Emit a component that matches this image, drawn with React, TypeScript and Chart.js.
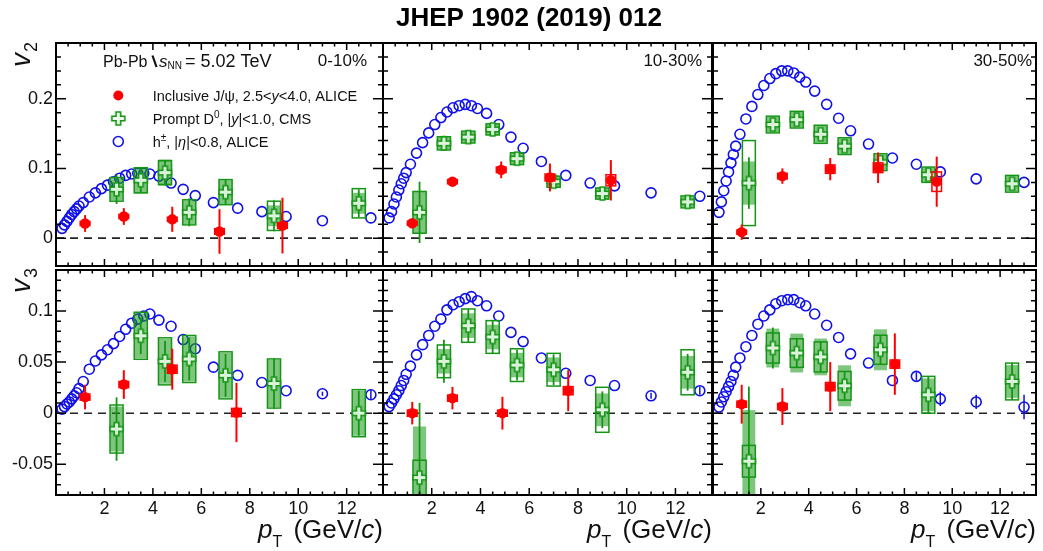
import { useEffect, useRef } from 'react';
import { Chart, registerables } from 'chart.js';

Chart.register(...registerables);

const FONT = '"Liberation Sans", Arial, Helvetica, sans-serif';
const W = 1043;
const H = 551;

// ---------------- data ----------------
const centralities = ['0-10%', '10-30%', '30-50%'];

const hPt = [0.25, 0.35, 0.45, 0.55, 0.65, 0.75, 0.85, 0.95, 1.125, 1.375, 1.625, 1.875, 2.125, 2.375, 2.625, 2.875, 3.125, 3.375, 3.625, 3.875, 4.25, 4.75, 5.25, 5.75, 6.5, 7.5, 8.5, 9.5, 11, 13];

const hV2_0_10 = [0.014, 0.019, 0.024, 0.029, 0.034, 0.038, 0.042, 0.046, 0.051, 0.059, 0.065, 0.071, 0.076, 0.081, 0.086, 0.09, 0.092, 0.093, 0.093, 0.092, 0.089, 0.079, 0.07, 0.061, 0.051, 0.043, 0.038, 0.031, 0.025, 0.029];
const hV2_10_30 = [0.029, 0.038, 0.049, 0.059, 0.069, 0.078, 0.086, 0.094, 0.106, 0.122, 0.137, 0.151, 0.163, 0.173, 0.181, 0.187, 0.19, 0.192, 0.19, 0.186, 0.179, 0.163, 0.145, 0.129, 0.11, 0.09, 0.079, 0.075, 0.065, 0.06];
const hV2_30_50 = [0.037, 0.052, 0.068, 0.082, 0.095, 0.108, 0.12, 0.132, 0.149, 0.171, 0.189, 0.206, 0.219, 0.229, 0.236, 0.24, 0.24, 0.237, 0.231, 0.224, 0.211, 0.192, 0.172, 0.154, 0.135, 0.115, 0.106, 0.095, 0.085, 0.08];
const hV2Err = [0, 0, 0, 0, 0, 0, 0, 0, 0, 0, 0, 0, 0, 0, 0, 0, 0, 0, 0, 0, 0, 0, 0, 0, 0, 0, 0, 0, 0, 0];

const hV3_0_10 = [0.004, 0.0065, 0.009, 0.011, 0.014, 0.017, 0.02, 0.024, 0.031, 0.043, 0.051, 0.057, 0.062, 0.068, 0.075, 0.082, 0.088, 0.092, 0.095, 0.097, 0.091, 0.085, 0.072, 0.063, 0.045, 0.037, 0.03, 0.022, 0.019, 0.018];
const hV3_10_30 = [0.0065, 0.01, 0.014, 0.018, 0.022, 0.027, 0.032, 0.038, 0.046, 0.057, 0.067, 0.076, 0.085, 0.092, 0.101, 0.106, 0.109, 0.112, 0.114, 0.11, 0.105, 0.095, 0.079, 0.07, 0.054, 0.039, 0.032, 0.027, 0.017, 0.022];
const hV3_30_50 = [0.006, 0.011, 0.016, 0.021, 0.026, 0.031, 0.037, 0.045, 0.054, 0.065, 0.076, 0.087, 0.095, 0.101, 0.107, 0.11, 0.111, 0.111, 0.108, 0.105, 0.097, 0.086, 0.074, 0.058, 0.049, 0.032, 0.036, 0.014, 0.011, 0.006];
const hV3Err_0_10 = [0, 0, 0, 0, 0, 0, 0, 0, 0, 0, 0, 0, 0, 0, 0, 0, 0, 0, 0, 0, 0, 0, 0, 0, 0, 0, 0, 0, 0.002, 0.005];
const hV3Err_10_30 = [0, 0, 0, 0, 0, 0, 0, 0, 0, 0, 0, 0, 0, 0, 0, 0, 0, 0, 0, 0, 0, 0, 0, 0, 0, 0, 0, 0, 0.003, 0.004];
const hV3Err_30_50 = [0, 0, 0, 0, 0, 0, 0, 0, 0, 0, 0, 0, 0, 0, 0, 0, 0, 0, 0, 0, 0, 0, 0, 0, 0, 0, 0.004, 0.007, 0.007, 0.012];

// Prompt D0 (CMS)
const d0PtV2_0_10 = [2.5, 3.5, 4.5, 5.5, 7, 9, 12.5];
const d0V2_0_10 = [0.07, 0.083, 0.094, 0.037, 0.066, 0.032, 0.05];
const d0V2Stat_0_10 = [0.021, 0.018, 0.018, 0.02, 0.018, 0.022, 0.02];
const d0V2SysA_0_10 = [0.016, 0.019, 0.019, 0.017, 0.017, 0.015, 0.015];
const d0V2SysB_0_10 = [0.017, 0.018, 0.017, 0.018, 0.018, 0.021, 0.021];

const d0Pt = [1.5, 2.5, 3.5, 4.5, 5.5, 7, 9, 12.5];
const d0V2_10_30 = [0.037, 0.136, 0.145, 0.156, 0.114, 0.081, 0.064, 0.052];
const d0V2Stat_10_30 = [0.044, 0.011, 0.006, 0.006, 0.006, 0.006, 0.006, 0.006];
const d0V2SysA_10_30 = [0.03, 0.009, 0.008, 0.008, 0.008, 0.008, 0.008, 0.008];
const d0V2SysB_10_30 = [0.03, 0.0095, 0.0085, 0.008, 0.0085, 0.008, 0.008, 0.0086];

const d0V2_30_50 = [0.079, 0.163, 0.17, 0.149, 0.132, 0.109, 0.091, 0.078];
const d0V2Stat_30_50 = [0.037, 0.008, 0.008, 0.008, 0.008, 0.008, 0.008, 0.008];
const d0V2SysA_30_50 = [0.031, 0.011, 0.011, 0.012, 0.011, 0.011, 0.01, 0.011];
const d0V2SysB_30_50 = [0.061, 0.012, 0.012, 0.013, 0.012, 0.012, 0.011, 0.012];

const d0PtV3_0_10 = [2.5, 3.5, 4.5, 5.5, 7, 9, 12.5];
const d0V3_0_10 = [-0.0155, 0.0757, 0.0507, 0.053, 0.037, 0.029, 0.0];
const d0V3Stat_0_10 = [0.031, 0.018, 0.02, 0.021, 0.021, 0.025, 0.022];
const d0V3SysA_0_10 = [0.022, 0.022, 0.022, 0.022, 0.022, 0.023, 0.022];
const d0V3SysB_0_10 = [0.0235, 0.023, 0.023, 0.023, 0.023, 0.024, 0.023];

const d0V3_10_30 = [-0.063, 0.0507, 0.0856, 0.0745, 0.047, 0.0425, 0.0033, 0.04];
const d0V3Stat_10_30 = [0.073, 0.021, 0.016, 0.016, 0.015, 0.015, 0.018, 0.018];
const d0V3SysA_10_30 = [0.05, 0.012, 0.012, 0.012, 0.012, 0.012, 0.016, 0.016];
const d0V3SysB_10_30 = [0.017, 0.016, 0.0163, 0.016, 0.016, 0.016, 0.022, 0.022];

const d0V3_30_50 = [-0.047, 0.0637, 0.0588, 0.055, 0.0268, 0.062, 0.018, 0.031];
const d0V3Stat_30_50 = [0.073, 0.02, 0.014, 0.015, 0.014, 0.014, 0.018, 0.018];
const d0V3SysA_30_50 = [0.05, 0.019, 0.019, 0.018, 0.02, 0.02, 0.016, 0.016];
const d0V3SysB_30_50 = [0.0155, 0.0147, 0.014, 0.0147, 0.014, 0.0142, 0.018, 0.018];

// Inclusive J/psi (ALICE)
const jPtV2_0_10 = [1.2, 2.8, 4.8, 6.75, 9.35];
const jV2_0_10 = [0.021, 0.031, 0.027, 0.0095, 0.018];
const jV2Stat_0_10 = [0.012, 0.012, 0.018, 0.032, 0.04];
const jV2Sys_0_10 = [0.003, 0.003, 0.003, 0.004, 0.004];

const jPtV2_10_30 = [1.2, 2.85, 4.85, 6.85, 9.35];
const jV2_10_30 = [0.0214, 0.081, 0.098, 0.087, 0.083];
const jV2Stat_10_30 = [0.006, 0.005, 0.012, 0.02, 0.029];
const jV2Sys_10_30 = [0.003, 0.003, 0.004, 0.005, 0.008];

const jPtV2_30_50 = [1.2, 2.9, 4.9, 6.9, 9.35];
const jV2_30_50 = [0.0086, 0.089, 0.099, 0.101, 0.081];
const jV2Stat_30_50 = [0.011, 0.011, 0.016, 0.022, 0.036];
const jV2Sys_30_50 = [0.003, 0.004, 0.006, 0.007, 0.014];

const jPtV3_0_10 = [1.2, 2.8, 4.8, 7.45];
const jV3_0_10 = [0.0157, 0.028, 0.043, 0.0007];
const jV3Stat_0_10 = [0.012, 0.014, 0.02, 0.029];
const jV3Sys_0_10 = [0.003, 0.003, 0.004, 0.004];

const jPtV3_10_30 = [1.2, 2.85, 4.9, 7.6];
const jV3_10_30 = [0.0, 0.0147, 0.0, 0.022];
const jV3Stat_10_30 = [0.011, 0.011, 0.016, 0.02];
const jV3Sys_10_30 = [0.003, 0.003, 0.003, 0.004];

const jPtV3_30_50 = [1.2, 2.9, 4.9, 7.6];
const jV3_30_50 = [0.0088, 0.0065, 0.026, 0.048];
const jV3Stat_30_50 = [0.019, 0.018, 0.024, 0.03];
const jV3Sys_30_50 = [0.003, 0.003, 0.004, 0.004];

// axis ticks
const xTickLabels = [2, 4, 6, 8, 10, 12];
const v2TickLabels = [0, 0.1, 0.2];
const v3TickLabels = [-0.05, 0, 0.05, 0.1];

// ---------------- layout / style ----------------
const COL_EDGES = [[56, 383], [383, 712], [713, 1041]];
const ROW_EDGES = [[43, 266], [270, 495]];
const X_RANGE = [0, 13.5];
const Y_RANGE = [[-0.04, 0.28], [-0.08, 0.14]];
const Y_MAJOR = [0.1, 0.05];
const Y_MINOR = [0.02, 0.01];
const RED = '#ff0000';
const GREEN = 'rgb(20,150,20)';
const GREEN_FILL = 'rgba(20,150,20,0.55)';
const BLUE = '#1010e8';

const PANELS = [
  { row: 0, col: 0, hY: hV2_0_10, hE: hV2Err, dX: d0PtV2_0_10, dY: d0V2_0_10, dS: d0V2Stat_0_10, dA: d0V2SysA_0_10, dB: d0V2SysB_0_10, jX: jPtV2_0_10, jY: jV2_0_10, jS: jV2Stat_0_10, jSys: jV2Sys_0_10 },
  { row: 0, col: 1, hY: hV2_10_30, hE: hV2Err, dX: d0Pt, dY: d0V2_10_30, dS: d0V2Stat_10_30, dA: d0V2SysA_10_30, dB: d0V2SysB_10_30, jX: jPtV2_10_30, jY: jV2_10_30, jS: jV2Stat_10_30, jSys: jV2Sys_10_30 },
  { row: 0, col: 2, hY: hV2_30_50, hE: hV2Err, dX: d0Pt, dY: d0V2_30_50, dS: d0V2Stat_30_50, dA: d0V2SysA_30_50, dB: d0V2SysB_30_50, jX: jPtV2_30_50, jY: jV2_30_50, jS: jV2Stat_30_50, jSys: jV2Sys_30_50 },
  { row: 1, col: 0, hY: hV3_0_10, hE: hV3Err_0_10, dX: d0PtV3_0_10, dY: d0V3_0_10, dS: d0V3Stat_0_10, dA: d0V3SysA_0_10, dB: d0V3SysB_0_10, jX: jPtV3_0_10, jY: jV3_0_10, jS: jV3Stat_0_10, jSys: jV3Sys_0_10 },
  { row: 1, col: 1, hY: hV3_10_30, hE: hV3Err_10_30, dX: d0Pt, dY: d0V3_10_30, dS: d0V3Stat_10_30, dA: d0V3SysA_10_30, dB: d0V3SysB_10_30, jX: jPtV3_10_30, jY: jV3_10_30, jS: jV3Stat_10_30, jSys: jV3Sys_10_30 },
  { row: 1, col: 2, hY: hV3_30_50, hE: hV3Err_30_50, dX: d0Pt, dY: d0V3_30_50, dS: d0V3Stat_30_50, dA: d0V3SysA_30_50, dB: d0V3SysB_30_50, jX: jPtV3_30_50, jY: jV3_30_50, jS: jV3Stat_30_50, jSys: jV3Sys_30_50 },
];

let crossCanvas: HTMLCanvasElement | null = null;
function getCross() {
  if (crossCanvas) return crossCanvas;
  const size = 13;
  const arm = 4.6;
  const c = document.createElement('canvas');
  c.width = size + 4;
  c.height = size + 4;
  const ctx = c.getContext('2d')!;
  const m = (size + 4) / 2;
  const a = arm / 2;
  const h = size / 2;
  ctx.beginPath();
  ctx.moveTo(m - a, m - h); ctx.lineTo(m + a, m - h); ctx.lineTo(m + a, m - a); ctx.lineTo(m + h, m - a);
  ctx.lineTo(m + h, m + a); ctx.lineTo(m + a, m + a); ctx.lineTo(m + a, m + h); ctx.lineTo(m - a, m + h);
  ctx.lineTo(m - a, m + a); ctx.lineTo(m - h, m + a); ctx.lineTo(m - h, m - a); ctx.lineTo(m - a, m - a);
  ctx.closePath();
  ctx.fillStyle = 'rgba(235,250,235,0.9)';
  ctx.fill();
  ctx.strokeStyle = GREEN;
  ctx.lineWidth = 1.6;
  ctx.stroke();
  crossCanvas = c;
  return c;
}

type Seg = { t: string; it?: boolean; bold?: boolean; size?: number; dy?: number; dx?: number };
function drawRich(ctx: CanvasRenderingContext2D, x: number, y: number, segs: Seg[], base: number, align: string = 'left') {
  const fontOf = (s: Seg) => `${s.it ? 'italic ' : ''}${s.bold ? 'bold ' : ''}${s.size ?? base}px ${FONT}`;
  let total = 0;
  const ws = segs.map((s) => {
    ctx.font = fontOf(s);
    const w = ctx.measureText(s.t).width + (s.dx ?? 0);
    total += w;
    return w;
  });
  let cx = align === 'right' ? x - total : align === 'center' ? x - total / 2 : x;
  ctx.textAlign = 'left';
  ctx.textBaseline = 'alphabetic';
  segs.forEach((s, i) => {
    ctx.font = fontOf(s);
    ctx.fillText(s.t, cx + (s.dx ?? 0), y + (s.dy ?? 0));
    cx += ws[i];
  });
}

function drawRotatedV(ctx: CanvasRenderingContext2D, x: number, yBottom: number, sub: string) {
  ctx.save();
  ctx.translate(x, yBottom);
  ctx.rotate(-Math.PI / 2);
  ctx.fillStyle = '#111';
  ctx.textAlign = 'left';
  ctx.textBaseline = 'alphabetic';
  ctx.font = `italic 28px ${FONT}`;
  ctx.fillText('v', 0, 0);
  const w = ctx.measureText('v').width;
  ctx.font = `18px ${FONT}`;
  ctx.fillText(sub, w + 1, 7);
  ctx.restore();
}

function drawPtTitle(ctx: CanvasRenderingContext2D, right: number) {
  ctx.fillStyle = '#111';
  drawRich(ctx, right, 538, [
    { t: 'p', it: true },
    { t: 'T', size: 16, dy: 9 },
    { t: ' (GeV/', dx: 4 },
    { t: 'c', it: true },
    { t: ')' },
  ], 26, 'right');
}

function drawGlobalTexts(ctx: CanvasRenderingContext2D) {
  ctx.save();
  ctx.fillStyle = '#000';
  ctx.font = `bold 26px ${FONT}`;
  ctx.textAlign = 'center';
  ctx.textBaseline = 'alphabetic';
  ctx.fillText('JHEP 1902 (2019) 012', 529, 26);

  ctx.fillStyle = '#111';
  // header
  drawRich(ctx, 103, 67, [{ t: 'Pb-Pb' }], 16);
  ctx.strokeStyle = '#111';
  ctx.lineWidth = 2.2;
  ctx.beginPath();
  ctx.moveTo(152.5, 55.5);
  ctx.lineTo(156.5, 67);
  ctx.stroke();
  drawRich(ctx, 159, 67, [{ t: 's', it: true }, { t: 'NN', size: 10, dy: 2 }], 17);
  drawRich(ctx, 185, 67, [{ t: '= 5.02 TeV' }], 18);

  // legend
  const LS = 14.5;
  ctx.fillStyle = RED;
  ctx.beginPath();
  ctx.arc(118.3, 95.5, 5, 0, Math.PI * 2);
  ctx.fill();
  const cr = getCross();
  ctx.drawImage(cr, 118.3 - cr.width / 2, 118.5 - cr.height / 2);
  ctx.strokeStyle = BLUE;
  ctx.lineWidth = 1.6;
  ctx.beginPath();
  ctx.arc(118.3, 141.5, 5, 0, Math.PI * 2);
  ctx.stroke();

  ctx.fillStyle = '#111';
  drawRich(ctx, 152.7, 101, [{ t: 'Inclusive J/ψ, 2.5<' }, { t: 'y', it: true }, { t: '<4.0, ALICE' }], LS);
  drawRich(ctx, 152.7, 124, [{ t: 'Prompt D' }, { t: '0', size: 10, dy: -6 }, { t: ', |' }, { t: 'y', it: true }, { t: '|<1.0, CMS' }], LS);
  drawRich(ctx, 152.7, 147, [{ t: 'h' }, { t: '±', size: 10, dy: -6 }, { t: ', |' }, { t: 'η', it: true }, { t: '|<0.8, ALICE' }], LS);

  drawRotatedV(ctx, 30, 67, '2');
  ctx.restore();
}

function panelPlugin(p: any) {
  return {
    id: 'panelDeco',
    beforeDatasetsDraw(chart: any) {
      const { ctx, chartArea: a, scales } = chart;
      const y0 = scales.y.getPixelForValue(0);
      ctx.save();
      ctx.strokeStyle = '#222';
      ctx.lineWidth = 1.6;
      ctx.setLineDash([8, 6]);
      ctx.beginPath();
      ctx.moveTo(a.left, y0);
      ctx.lineTo(a.right, y0);
      ctx.stroke();
      ctx.restore();
    },
    beforeDatasetDraw(chart: any, args: any) {
      const ds = chart.data.datasets[args.index];
      const { ctx, chartArea: a, scales } = chart;
      const xs = scales.x;
      const ys = scales.y;
      ctx.save();
      ctx.beginPath();
      ctx.rect(a.left, a.top, a.right - a.left, a.bottom - a.top);
      ctx.clip();
      const vbar = (x: number, y: number, e: number, color: string, lw: number) => {
        if (!e) return;
        const px = xs.getPixelForValue(x);
        ctx.strokeStyle = color;
        ctx.lineWidth = lw;
        ctx.beginPath();
        ctx.moveTo(px, ys.getPixelForValue(y - e));
        ctx.lineTo(px, ys.getPixelForValue(y + e));
        ctx.stroke();
      };
      const box = (x: number, y: number, hw: number, e: number) => {
        const x1 = xs.getPixelForValue(x - hw);
        const x2 = xs.getPixelForValue(x + hw);
        const y1 = ys.getPixelForValue(y + e);
        const y2 = ys.getPixelForValue(y - e);
        return [x1, y1, x2 - x1, y2 - y1];
      };
      if (ds.label === 'h') {
        hPt.forEach((x, i) => vbar(x, p.hY[i], p.hE[i], BLUE, 1.5));
      } else if (ds.label === 'd0') {
        p.dX.forEach((x: number, i: number) => {
          const y = p.dY[i];
          const [fx, fy, fw, fh] = box(x, y, 0.27, p.dA[i]);
          ctx.fillStyle = GREEN_FILL;
          ctx.fillRect(fx, fy, fw, fh);
          const [ox, oy, ow, oh] = box(x, y, 0.27, p.dB[i]);
          ctx.strokeStyle = GREEN;
          ctx.lineWidth = 1.5;
          ctx.strokeRect(ox, oy, ow, oh);
          vbar(x, y, p.dS[i], GREEN, 1.8);
        });
      } else if (ds.label === 'jpsi') {
        p.jX.forEach((x: number, i: number) => {
          const y = p.jY[i];
          vbar(x, y, p.jS[i], RED, 2);
          const [ox, oy, ow, oh] = box(x, y, 0.2, p.jSys[i]);
          ctx.strokeStyle = RED;
          ctx.lineWidth = 1.5;
          ctx.strokeRect(ox, oy, ow, oh);
        });
      }
      ctx.restore();
    },
    afterDraw(chart: any) {
      const { ctx, chartArea: a, scales } = chart;
      const xs = scales.x;
      const ys = scales.y;
      ctx.save();
      ctx.strokeStyle = '#000';
      ctx.lineWidth = 1.5;
      ctx.beginPath();
      for (let i = 0; i <= Math.round(X_RANGE[1] / 0.5); i++) {
        const px = xs.getPixelForValue(i * 0.5);
        const len = i % 4 === 0 ? 7 : 3.5;
        ctx.moveTo(px, a.bottom);
        ctx.lineTo(px, a.bottom - len);
        ctx.moveTo(px, a.top);
        ctx.lineTo(px, a.top + len);
      }
      const [ymin, ymax] = Y_RANGE[p.row];
      const step = Y_MINOR[p.row];
      const every = Math.round(Y_MAJOR[p.row] / step);
      const n0 = Math.ceil(ymin / step - 1e-9);
      const n1 = Math.floor(ymax / step + 1e-9);
      for (let n = n0; n <= n1; n++) {
        const py = ys.getPixelForValue(n * step);
        const len = n % every === 0 ? 10 : 5;
        ctx.moveTo(a.left, py);
        ctx.lineTo(a.left + len, py);
        ctx.moveTo(a.right, py);
        ctx.lineTo(a.right - len, py);
      }
      ctx.stroke();
      ctx.lineWidth = 2;
      ctx.strokeRect(a.left, a.top, a.right - a.left, a.bottom - a.top);
      ctx.restore();

      ctx.save();
      ctx.fillStyle = '#111';
      if (p.row === 0) {
        const rights = [367, 702, 1032];
        drawRich(ctx, rights[p.col], 66, [{ t: centralities[p.col] }], 17, 'right');
      } else {
        drawPtTitle(ctx, a.right);
      }
      if (p.row === 0 && p.col === 0) drawGlobalTexts(ctx);
      if (p.row === 1 && p.col === 0) drawRotatedV(ctx, 30, 293, '3');
      ctx.restore();
    },
  };
}

function makeConfig(p: any): any {
  const [L, R] = COL_EDGES[p.col];
  const [T, B] = ROW_EDGES[p.row];
  const YW = 50;
  const XH = 34;
  const hData = hPt.map((x, i) => ({ x, y: p.hY[i] }));
  const dData = p.dX.map((x: number, i: number) => ({ x, y: p.dY[i] }));
  const jData = p.jX.map((x: number, i: number) => ({ x, y: p.jY[i] }));
  const yLabels = p.row === 0 ? v2TickLabels : v3TickLabels;
  const tickFont = { family: FONT, size: 18 };
  return {
    type: 'scatter',
    data: {
      datasets: [
        { label: 'jpsi', data: jData, pointStyle: 'circle', pointRadius: 5.2, backgroundColor: RED, borderColor: RED, borderWidth: 0, order: 0 },
        { label: 'd0', data: dData, pointStyle: getCross(), pointRadius: 6, order: 1 },
        { label: 'h', data: hData, pointStyle: 'circle', pointRadius: 5, borderColor: BLUE, backgroundColor: 'rgba(0,0,0,0)', borderWidth: 1.6, order: 2 },
      ],
    },
    options: {
      responsive: false,
      animation: false,
      devicePixelRatio: 1,
      events: [],
      layout: { padding: { left: L - YW, right: W - R, top: T, bottom: H - B - XH } },
      plugins: { legend: { display: false }, tooltip: { enabled: false } },
      scales: {
        x: {
          type: 'linear',
          min: X_RANGE[0],
          max: X_RANGE[1],
          position: 'bottom',
          afterBuildTicks: (s: any) => { s.ticks = xTickLabels.map((v) => ({ value: v })); },
          afterFit: (s: any) => { s.height = XH; },
          grid: { display: false, drawTicks: false },
          border: { display: false },
          ticks: { display: p.row === 1, font: tickFont, color: '#111', padding: 3, autoSkip: false, maxRotation: 0, callback: (v: any) => String(v) },
        },
        y: {
          type: 'linear',
          min: Y_RANGE[p.row][0],
          max: Y_RANGE[p.row][1],
          position: 'left',
          afterBuildTicks: (s: any) => { s.ticks = yLabels.map((v) => ({ value: v })); },
          afterFit: (s: any) => { s.width = YW; },
          grid: { display: false, drawTicks: false },
          border: { display: false },
          ticks: { display: p.col === 0, font: tickFont, color: '#111', padding: 3, autoSkip: false, callback: (v: any) => String(v) },
        },
      },
    },
    plugins: [panelPlugin(p)],
  };
}

export default function App() {
  const refs = useRef<(HTMLCanvasElement | null)[]>([]);
  useEffect(() => {
    const charts = PANELS.map((p, i) => new Chart(refs.current[i] as HTMLCanvasElement, makeConfig(p)));
    return () => charts.forEach((c) => c.destroy());
  }, []);
  return (
    <div style={{ position: 'absolute', left: 0, top: 0, width: W, height: H, background: '#fff', overflow: 'hidden' }}>
      {PANELS.map((_, i) => (
        <canvas
          key={i}
          ref={(el) => { refs.current[i] = el; }}
          width={W}
          height={H}
          style={{ position: 'absolute', left: 0, top: 0, width: W, height: H }}
        />
      ))}
    </div>
  );
}
